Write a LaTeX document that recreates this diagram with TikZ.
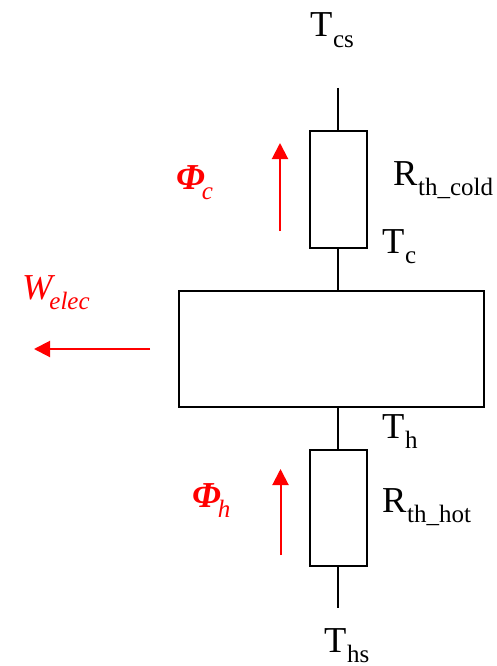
\documentclass[tikz,border=0pt]{standalone}
\usepackage{fontspec}
\setmainfont{Liberation Serif}
\usetikzlibrary{arrows.meta}
\newcommand{\lab}[3][0.8pt]{\fontsize{36.5}{36.5}\selectfont #2\hspace{#1}\raisebox{-10.5pt}{\fontsize{25}{25}\selectfont #3}}
\tikzset{
  wire/.style={draw=black,line width=2pt},
  resbox/.style={draw=black,line width=2pt,fill=none,minimum width=57.5pt,inner sep=0pt,outer sep=0pt},
  mainbox/.style={draw=black,line width=2pt,minimum width=305pt,minimum height=116pt,inner sep=0pt,outer sep=0pt},
  flow/.style={draw=red,line width=2pt,-{Triangle[length=16pt,width=16pt]}},
  blacklabel/.style={anchor=base west,inner sep=0pt,outer sep=0pt,text=black},
  redlabel/.style={anchor=base west,inner sep=0pt,outer sep=0pt,text=red},
}
\begin{document}
\begin{tikzpicture}[x=1pt,y=-1pt]
\useasboundingbox (0,0) rectangle (497,666);
% components
\node[mainbox] (core) at (331.5,349) {};
\node[resbox,minimum height=117pt] (rcold) at (338.25,189.5) {};
\node[resbox,minimum height=116pt] (rhot) at (338.25,508) {};
% free ends
\coordinate (top) at (338,88);
\coordinate (bot) at (338,608);
\coordinate (fcS) at (280,231);
\coordinate (fcE) at (280,143);
\coordinate (fhS) at (280.5,555);
\coordinate (fhE) at (280.5,469);
\coordinate (wS) at (150,349);
\coordinate (wE) at (34,349);
% wires
\draw[wire] (top) -- (rcold.north -| top);
\draw[wire] (rcold.south -| top) -- (core.north -| top);
\draw[wire] (core.south -| top) -- (rhot.north -| top);
\draw[wire] (rhot.south -| top) -- (bot);
% flows
\draw[flow] (fcS) -- (fcE);
\draw[flow] (fhS) -- (fhE);
\draw[flow] (wS) -- (wE);
% labels
\node[blacklabel] (tcs) at (310,37) {\lab{T}{cs}};
\node[blacklabel] (tc) at (382,253) {\lab{T}{c}};
\node[blacklabel] (th) at (382,438) {\lab{T}{h}};
\node[blacklabel] (ths) at (324,652) {\lab{T}{hs}};
\node[blacklabel] (rthc) at (393,185) {\lab{R}{th\_cold}};
\node[blacklabel] (rthh) at (382,512) {\lab{R}{th\_hot}};
\node[redlabel] (phic) at (176,189) {\lab[-3pt]{\bfseries\itshape Φ}{\normalfont\itshape c}};
\node[redlabel] (phih) at (192,507) {\lab[-3pt]{\bfseries\itshape Φ}{\normalfont\itshape h}};
\node[redlabel] (welec) at (22,299) {\lab[-3pt]{\itshape W}{\itshape elec}};
\end{tikzpicture}
\end{document}
